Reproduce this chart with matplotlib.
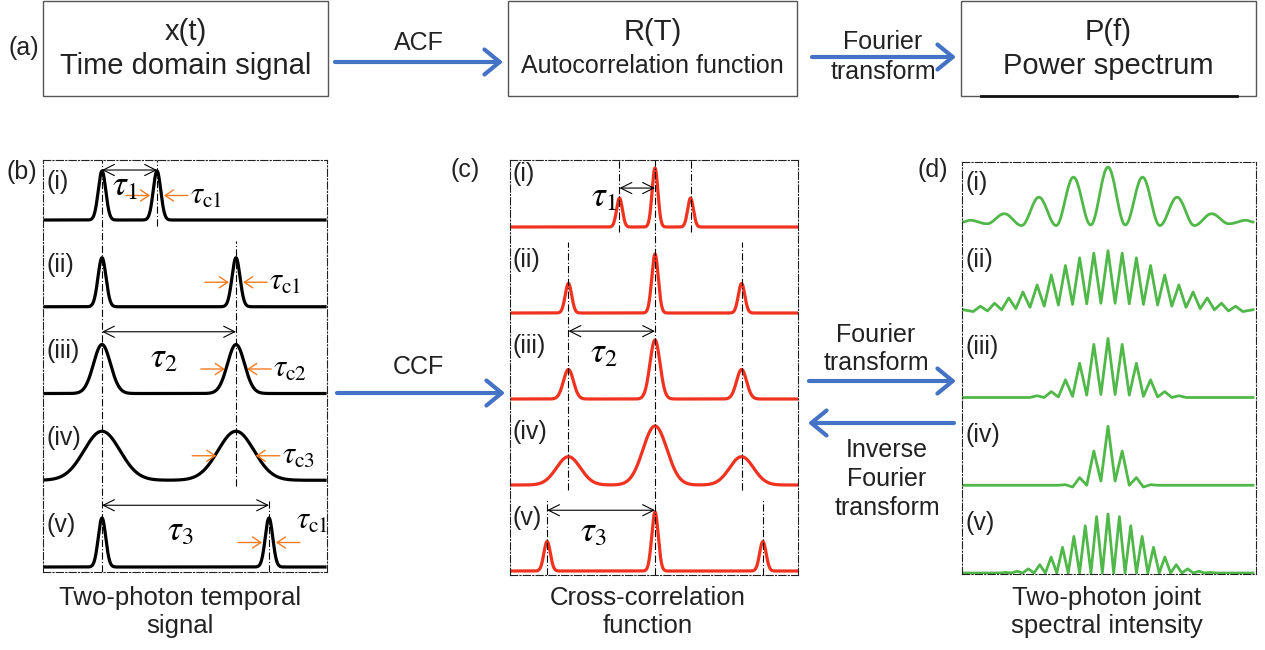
import numpy as np
import matplotlib.pyplot as plt
from matplotlib.patches import Rectangle

plt.rcParams['font.family'] = ['Liberation Sans', 'DejaVu Sans']
plt.rcParams['mathtext.fontset'] = 'stix'

W, H = 1265, 650

roman = ['(i)', '(ii)', '(iii)', '(iv)', '(v)']

# (b) two-photon temporal signal: delay of second photon and pulse width (ps)
b_delays = [1.1, 2.68, 2.68, 2.68, 3.34]
b_widths = [0.075, 0.08, 0.17, 0.36, 0.075]
b_tc = ['c1', 'c1', 'c2', 'c3', 'c1']
tau_rows = [0, 2, 4]
tau_names = ['1', '2', '3']

# (c) cross-correlation function: peak widths and heights
c_widths = [0.09, 0.1, 0.155, 0.37, 0.1]
c_center = [1.0, 1.0, 1.0, 1.0, 1.0]
c_side = [0.49, 0.5, 0.5, 0.48, 0.5]

# (d) joint spectral intensity: fringe peaks from the centre outwards, and the troughs after them
d_peaks = [
    [0.93, 0.76, 0.42, 0.14, 0.03],
    [1.0, 0.96, 0.88, 0.75, 0.59, 0.42, 0.30, 0.20, 0.11, 0.06],
    [1.0, 0.9, 0.58, 0.3, 0.1, 0.03],
    [1.0, 0.58, 0.13, 0.01],
    [1.0, 0.955, 0.80, 0.62, 0.435, 0.27, 0.14, 0.07, 0.03, 0.01],
]
d_troughs = [
    [-0.05, -0.06, -0.06, -0.03, -0.01],
    [0.11, 0.10, 0.09, 0.08, 0.06, 0.04, 0.02, 0.0, -0.02, -0.03],
    [0.05, 0.04, 0.02, 0.01, 0.0, 0.0],
    [0.07, 0.0, -0.03, 0.0],
    [0.0, 0.0, 0.0, 0.0, 0.0, 0.0, 0.0, 0.0, 0.0, 0.0],
]

BLUE = '#4472C4'
RED = '#F0321E'
GREEN = '#50B848'
ORANGE = '#F47B20'
INK = '#222222'
DD = (0, (6.5, 2, 1, 2))


def gauss(t, c, s):
    return np.exp(-(t - c) ** 2 / (2 * s ** 2))


def px_axes(x0, y0, x1, y1, xlim, ylim):
    ax = fig.add_axes([x0 / W, 1 - y1 / H, (x1 - x0) / W, (y1 - y0) / H])
    ax.set_xlim(xlim)
    ax.set_ylim(ylim)
    ax.set_xticks([])
    ax.set_yticks([])
    ax.patch.set_alpha(0)
    for s in ax.spines.values():
        s.set_linestyle(DD)
        s.set_linewidth(0.8)
        s.set_color(INK)
    return ax


def delay_lines(ax, delays, bases, top_off, bot_off, signs=(1,)):
    # dash-dot markers, joined where neighbouring rows share a delay
    ylo, yhi = ax.get_ylim()
    k = 0
    while k < len(delays):
        j = k
        while j + 1 < len(delays) and delays[j + 1] == delays[k]:
            j += 1
        top = yhi if k == 0 else bases[k] + top_off
        bot = ylo if j == len(delays) - 1 else bases[j] - bot_off
        for sg in signs:
            ax.plot([sg * delays[k]] * 2, [bot, top], color='k', lw=0.8, ls=DD)
        k = j + 1


def spectrum(period, peaks, troughs, fmax):
    pts = []
    for k, (p, q) in enumerate(zip(peaks, troughs)):
        pts.append((k * period, p))
        pts.append(((k + 0.5) * period, q))
    pts = [(x, y) for x, y in pts if x < fmax]
    pts.append((fmax, 0.0))
    left = [(-x, y) for x, y in reversed(pts[1:])]
    return np.array(left + pts).T


def smooth(x, y, n=25):
    xs, ys = [], []
    s = np.linspace(0, 1, n, endpoint=False)
    e = (1 - np.cos(np.pi * s)) / 2
    for i in range(len(x) - 1):
        xs.append(x[i] + (x[i + 1] - x[i]) * s)
        ys.append(y[i] + (y[i + 1] - y[i]) * e)
    xs.append([x[-1]])
    ys.append([y[-1]])
    return np.concatenate(xs), np.concatenate(ys)


def arrow(ax, x0, y0, x1, y1, color, lw, style):
    ax.annotate('', xy=(x1, y1), xytext=(x0, y0),
                arrowprops=dict(arrowstyle=style, color=color, lw=lw,
                                shrinkA=0, shrinkB=0, mutation_scale=20,
                                capstyle='round', joinstyle='round'))


fig = plt.figure(figsize=(W / 100, H / 100), dpi=100)
ax0 = fig.add_axes([0, 0, 1, 1])
ax0.set_xlim(0, W)
ax0.set_ylim(H, 0)
ax0.axis('off')

# ---- (a) flow chart ----
boxes = [(43, 328, 'x(t)', 'Time domain signal', 21),
         (508, 797, 'R(T)', 'Autocorrelation function', 18),
         (961, 1256, 'P(f)', 'Power spectrum', 21)]
for x0, x1, top, bottom, fs in boxes:
    ax0.add_patch(Rectangle((x0, 1), x1 - x0, 95, fill=False, ec='#555555', lw=1.0))
    ax0.text((x0 + x1) / 2, 32, top, ha='center', va='center', fontsize=21, color=INK)
    ax0.text((x0 + x1) / 2, 66, bottom, ha='center', va='center', fontsize=fs, color=INK)
ax0.plot([981, 1237], [96, 96], color='#111111', lw=2)
ax0.text(24, 48, '(a)', ha='center', va='center', fontsize=18, color=INK)

blue_style = '->,head_length=0.55,head_width=0.45'
arrow(ax0, 335, 62, 503, 62, BLUE, 3, blue_style)
ax0.text(419, 43, 'ACF', ha='center', va='center', fontsize=18, color=INK)
arrow(ax0, 812, 57, 956, 57, BLUE, 3, blue_style)
ax0.text(883, 42, 'Fourier', ha='center', va='center', fontsize=18, color=INK)
ax0.text(883, 72, 'transform', ha='center', va='center', fontsize=18, color=INK)

arrow(ax0, 337, 393, 505, 393, BLUE, 3, blue_style)
ax0.text(418, 367, 'CCF', ha='center', va='center', fontsize=18, color=INK)
arrow(ax0, 809, 381, 956, 381, BLUE, 3, blue_style)
ax0.text(876, 349, 'Fourier\ntransform', ha='center', va='center', fontsize=18,
         color=INK, linespacing=1.2)
arrow(ax0, 954, 423, 808, 423, BLUE, 3, blue_style)
ax0.text(887, 479, 'Inverse\nFourier\ntransform', ha='center', va='center', fontsize=18,
         color=INK, linespacing=1.27)

ax0.text(22, 172, '(b)', ha='center', va='center', fontsize=18, color=INK)
ax0.text(465, 170, '(c)', ha='center', va='center', fontsize=18, color=INK)
ax0.text(933, 170, '(d)', ha='center', va='center', fontsize=18, color=INK)

ax0.text(180, 612, 'Two-photon temporal\nsignal', ha='center', va='center',
         fontsize=18.5, color=INK, linespacing=1.2)
ax0.text(648, 612, 'Cross-correlation\nfunction', ha='center', va='center',
         fontsize=18.5, color=INK, linespacing=1.2)
ax0.text(1107, 612, 'Two-photon joint\nspectral intensity', ha='center', va='center',
         fontsize=18.5, color=INK, linespacing=1.2)

# ---- (b) temporal signal ----
UB = 49.0
ROWB = 86.75 / UB
ax_b = px_axes(43, 160, 327, 572, ((43 - 102) / 50, (327 - 102) / 50),
               (-4 * ROWB - 5 / UB, 60 / UB))
base_b = [-k * ROWB for k in range(5)]
t = np.linspace((45 - 102) / 50, (325 - 102) / 50, 2000)
for k in range(5):
    y = base_b[k] + gauss(t, 0, b_widths[k]) + gauss(t, b_delays[k], b_widths[k])
    ax_b.plot(t, y, color='k', lw=2.3)
    ax_b.text(0.06 - 1.18, min(base_b[k] + 0.86, 60 / UB - 0.45), roman[k],
              ha='left', va='center', fontsize=18, color=INK)
    # orange width markers
    d, w = b_delays[k], b_widths[k]
    gap = 0.9 * w + 0.07
    ya = base_b[k] + 0.5
    arrow(ax_b, d - gap - 0.48, ya, d - gap, ya, ORANGE, 1.0, '->,head_length=0.3,head_width=0.2')
    arrow(ax_b, d + gap + 0.48, ya, d + gap, ya, ORANGE, 1.0, '->,head_length=0.3,head_width=0.2')
    lab = r'$\tau_{\mathrm{%s}}$' % b_tc[k]
    if k == 4:
        ax_b.text(d + gap + 0.4, ya + 0.45, lab, ha='left', va='center', fontsize=22)
    else:
        ax_b.text(d + gap + 0.52, ya, lab, ha='left', va='center', fontsize=22)
ax_b.axvline(0, color='k', lw=0.8, ls=DD)
delay_lines(ax_b, b_delays, base_b, 1.35, 0.12)
for k, name in zip(tau_rows, tau_names):
    ya = base_b[k] + (1.02 if k == 0 else 1.26)
    arrow(ax_b, 0, ya, b_delays[k], ya, 'k', 0.8, '<->,head_length=0.4,head_width=0.2')
    ax_b.text(b_delays[k] / 2 - 0.1, ya - (0.33 if k == 0 else 0.52),
              r'$\tau_{%s}$' % name, ha='center', va='center', fontsize=25)

# ---- (c) cross-correlation ----
UC = 59.0
ROWC = 86.0 / UC
PXC = 32.3
ax_c = px_axes(510, 160, 798, 575, ((510 - 655) / PXC, (798 - 655) / PXC),
               (-4 * ROWC - 4 / UC, 67 / UC))
base_c = [-k * ROWC for k in range(5)]
tc = np.linspace((512 - 655) / PXC, (797 - 655) / PXC, 2000)
for k in range(5):
    d, w = b_delays[k], c_widths[k]
    y = base_c[k] + c_center[k] * gauss(tc, 0, w) + c_side[k] * (gauss(tc, -d, w) + gauss(tc, d, w))
    ax_c.plot(tc, y, color=RED, lw=2.3)
    ax_c.text((513 - 510) / PXC - 4.49, base_c[k] + 0.9, roman[k],
              ha='left', va='center', fontsize=18, color=INK)
ax_c.axvline(0, color='k', lw=0.8, ls=DD)
delay_lines(ax_c, b_delays, base_c, 1.2, 0.08, signs=(-1, 1))
c_arrow_y = [0.66, 1.15, 1.03]
for (k, name), ya_off in zip(zip(tau_rows, tau_names), c_arrow_y):
    d = b_delays[k]
    ya = base_c[k] + ya_off
    arrow(ax_c, 0, ya, -d, ya, 'k', 0.8, '<->,head_length=0.4,head_width=0.2')
    if k == 0:
        ax_c.text(-d - 0.08, ya - 0.14, r'$\tau_{%s}$' % name, ha='right', va='center', fontsize=25)
    else:
        ax_c.text(-d / 2 - 0.24, ya - 0.36, r'$\tau_{%s}$' % name, ha='center', va='center', fontsize=25)

# ---- (d) joint spectral intensity ----
UD = 59.0
ROWD = 87.75 / UD
PXD = 38.0
ax_d = px_axes(962, 162, 1256, 574, ((962 - 1108) / PXD, (1256 - 1108) / PXD),
               (-4 * ROWD - 1 / UD, 60 / UD))
base_d = [-k * ROWD for k in range(5)]
fmax = (1253 - 1108) / PXD
for k in range(5):
    fx, fy = spectrum(1.0 / b_delays[k], d_peaks[k], d_troughs[k], fmax)
    if k == 0:
        fx, fy = smooth(fx, fy)
    ax_d.plot(fx, base_d[k] + fy, color=GREEN, lw=2.0)
    ax_d.text((965 - 962) / PXD - 3.84, min(base_d[k] + 0.85, 60 / UD - 0.36), roman[k],
              ha='left', va='center', fontsize=18, color=INK)

fig.savefig('out.png', dpi=100)
